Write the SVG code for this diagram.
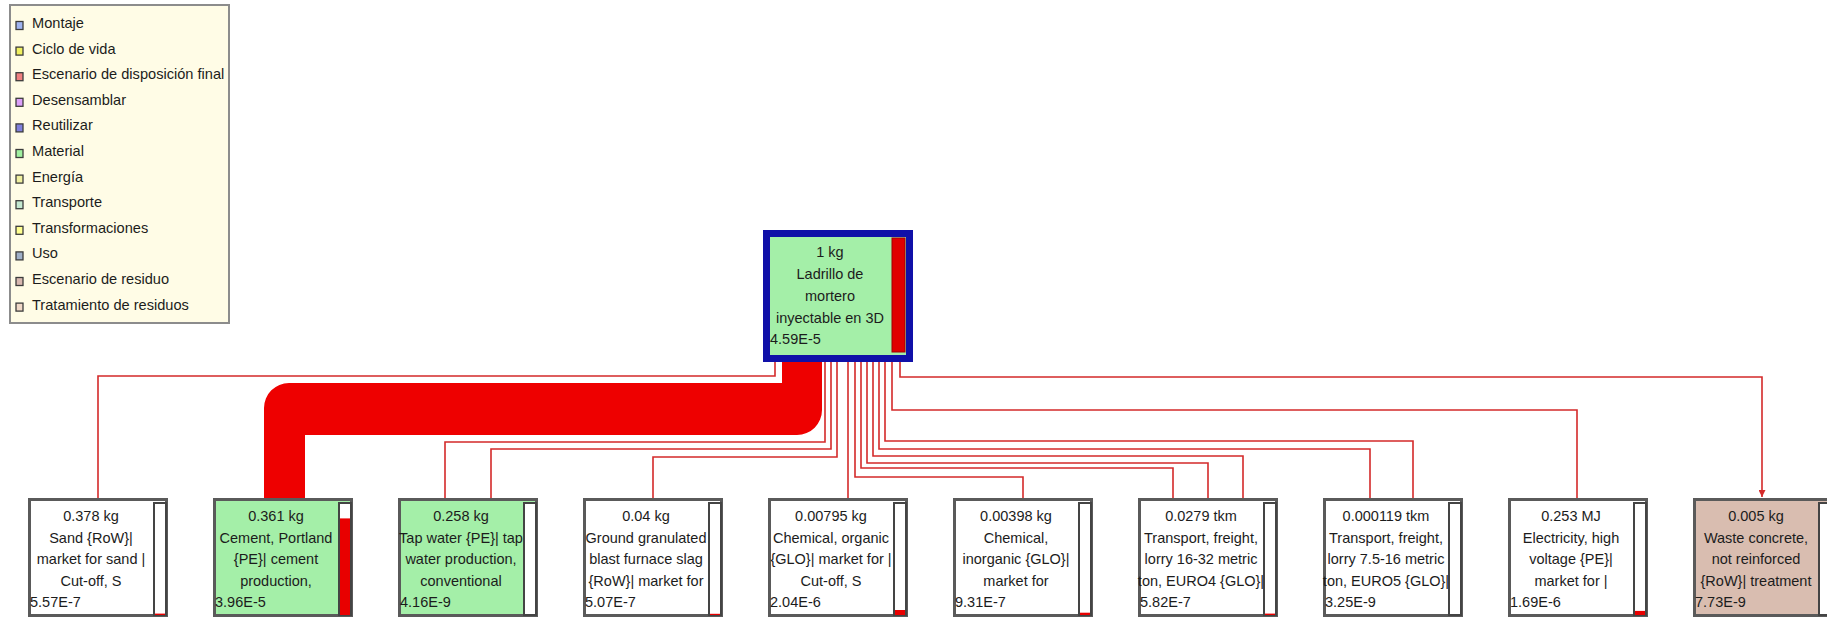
<svg xmlns="http://www.w3.org/2000/svg" width="1827" height="619" viewBox="0 0 1827 619">
<defs>
<style>
.t{font-family:"Liberation Sans",Arial,sans-serif;font-size:14.5px;fill:#1c1c1c;text-anchor:middle}
.v{font-family:"Liberation Sans",Arial,sans-serif;font-size:14.5px;fill:#1c1c1c;text-anchor:start}
.lg{font-family:"Liberation Sans",Arial,sans-serif;font-size:14.6px;fill:#1c1c1c}
.sq{stroke:#3c3c3c;stroke-width:1.3}
.box{stroke:#5a5a5a;stroke-width:3}
.bar{fill:#ffffff;stroke:#444444;stroke-width:2}
.red{fill:#e80000}
.c{fill:none;stroke:#d42a2a;stroke-width:1.6}
.white{fill:#ffffff}
.green{fill:#a4efa8}
.tan{fill:#d9bdb0}
</style>
<marker id="arr" viewBox="0 0 10 10" refX="10" refY="5" markerWidth="7" markerHeight="7" markerUnits="userSpaceOnUse" orient="auto">
<path d="M0,0 L10,5 L0,10 z" fill="#d42a2a"/>
</marker>
</defs>
<rect x="0" y="0" width="1827" height="619" fill="#ffffff"/>

<g id="legend">
<rect x="10" y="5" width="219" height="318" fill="#fffce6" stroke="#8c8c8c" stroke-width="2"/>
<rect class="sq" x="16" y="21.5" width="7" height="8" fill="#a0b4f0"/><text class="lg" x="32" y="28">Montaje</text>
<rect class="sq" x="16" y="47.1" width="7" height="8" fill="#f0f060"/><text class="lg" x="32" y="53.6">Ciclo de vida</text>
<rect class="sq" x="16" y="72.7" width="7" height="8" fill="#f08080"/><text class="lg" x="32" y="79.2">Escenario de disposición final</text>
<rect class="sq" x="16" y="98.3" width="7" height="8" fill="#dca0fa"/><text class="lg" x="32" y="104.8">Desensamblar</text>
<rect class="sq" x="16" y="123.9" width="7" height="8" fill="#8080dc"/><text class="lg" x="32" y="130.4">Reutilizar</text>
<rect class="sq" x="16" y="149.5" width="7" height="8" fill="#a0f0a0"/><text class="lg" x="32" y="156">Material</text>
<rect class="sq" x="16" y="175.1" width="7" height="8" fill="#f0f0a0"/><text class="lg" x="32" y="181.6">Energía</text>
<rect class="sq" x="16" y="200.7" width="7" height="8" fill="#c4e8d0"/><text class="lg" x="32" y="207.2">Transporte</text>
<rect class="sq" x="16" y="226.3" width="7" height="8" fill="#ffff90"/><text class="lg" x="32" y="232.8">Transformaciones</text>
<rect class="sq" x="16" y="251.9" width="7" height="8" fill="#a0b0c8"/><text class="lg" x="32" y="258.4">Uso</text>
<rect class="sq" x="16" y="277.5" width="7" height="8" fill="#d8b8b0"/><text class="lg" x="32" y="284">Escenario de residuo</text>
<rect class="sq" x="16" y="303.1" width="7" height="8" fill="#f0d8c8"/><text class="lg" x="32" y="309.6">Tratamiento de residuos</text>
</g>

<g id="connectors">
<path class="c" d="M775 360 V376 H98 V498"/>
<path d="M782 356 L822 356 L822 410 A25 25 0 0 1 797 435 L305 435 L305 498 L264 498 L264 408 A25 25 0 0 1 289 383 L782 383 Z" fill="#ee0000"/>
<path class="c" d="M825 360 V442 H445 V498"/>
<path class="c" d="M831 360 V449 H491 V498"/>
<path class="c" d="M837 360 V457 H653 V498"/>
<path class="c" d="M848 360 V498"/>
<path class="c" d="M855 360 V477 H1023 V498"/>
<path class="c" d="M861 360 V468 H1173 V498"/>
<path class="c" d="M867 360 V463 H1208 V498"/>
<path class="c" d="M873 360 V456 H1243 V498"/>
<path class="c" d="M879 360 V449 H1370 V498"/>
<path class="c" d="M885 360 V441 H1413 V498"/>
<path class="c" d="M892 360 V410 H1577 V498"/>
<path class="c" d="M900 360 V377 H1762 V497" marker-end="url(#arr)"/>
</g>

<g id="node-top">
<rect x="766.5" y="233.5" width="143" height="125" fill="#a4efa8" stroke="#1010a8" stroke-width="7"/>
<rect x="892" y="238" width="13" height="114" fill="#e00000" stroke="#a00000" stroke-width="1"/>
<text class="t" x="830" y="257">1 kg</text>
<text class="t" x="830" y="279">Ladrillo de</text>
<text class="t" x="830" y="301">mortero</text>
<text class="t" x="830" y="323">inyectable en 3D</text>
<text class="v" x="770" y="344">4.59E-5</text>
</g>

<g id="node-sand">
<rect class="box white" x="29.5" y="499.5" width="137" height="116"/>
<rect class="bar" x="154" y="503" width="12" height="112"/>
<rect class="red" x="155" y="613.6" width="10" height="1.4"/>
<text class="t" x="91" y="521">0.378 kg</text>
<text class="t" x="91" y="542.5">Sand {RoW}|</text>
<text class="t" x="91" y="564">market for sand |</text>
<text class="t" x="91" y="585.5">Cut-off, S</text>
<text class="v" x="30" y="607">5.57E-7</text>
</g>

<g id="node-cement">
<rect class="box green" x="214.5" y="499.5" width="137" height="116"/>
<rect class="bar" x="339" y="503" width="12" height="112"/>
<rect class="red" x="340" y="518.4" width="10" height="96.6"/>
<text class="t" x="276" y="521">0.361 kg</text>
<text class="t" x="276" y="542.5">Cement, Portland</text>
<text class="t" x="276" y="564">{PE}| cement</text>
<text class="t" x="276" y="585.5">production,</text>
<text class="v" x="215" y="607">3.96E-5</text>
</g>

<g id="node-tapwater">
<rect class="box green" x="399.5" y="499.5" width="137" height="116"/>
<rect class="bar" x="524" y="503" width="12" height="112"/>
<text class="t" x="461" y="521">0.258 kg</text>
<text class="t" x="461" y="542.5">Tap water {PE}| tap</text>
<text class="t" x="461" y="564">water production,</text>
<text class="t" x="461" y="585.5">conventional</text>
<text class="v" x="400" y="607">4.16E-9</text>
</g>

<g id="node-slag">
<rect class="box white" x="584.5" y="499.5" width="137" height="116"/>
<rect class="bar" x="709" y="503" width="12" height="112"/>
<rect class="red" x="710" y="613.8" width="10" height="1.2"/>
<text class="t" x="646" y="521">0.04 kg</text>
<text class="t" x="646" y="542.5">Ground granulated</text>
<text class="t" x="646" y="564">blast furnace slag</text>
<text class="t" x="646" y="585.5">{RoW}| market for</text>
<text class="v" x="585" y="607">5.07E-7</text>
</g>

<g id="node-chem-organic">
<rect class="box white" x="769.5" y="499.5" width="137" height="116"/>
<rect class="bar" x="894" y="503" width="12" height="112"/>
<rect class="red" x="895" y="610" width="10" height="5"/>
<text class="t" x="831" y="521">0.00795 kg</text>
<text class="t" x="831" y="542.5">Chemical, organic</text>
<text class="t" x="831" y="564">{GLO}| market for |</text>
<text class="t" x="831" y="585.5">Cut-off, S</text>
<text class="v" x="770" y="607">2.04E-6</text>
</g>

<g id="node-chem-inorganic">
<rect class="box white" x="954.5" y="499.5" width="137" height="116"/>
<rect class="bar" x="1079" y="503" width="12" height="112"/>
<rect class="red" x="1080" y="612.7" width="10" height="2.3"/>
<text class="t" x="1016" y="521">0.00398 kg</text>
<text class="t" x="1016" y="542.5">Chemical,</text>
<text class="t" x="1016" y="564">inorganic {GLO}|</text>
<text class="t" x="1016" y="585.5">market for</text>
<text class="v" x="955" y="607">9.31E-7</text>
</g>

<g id="node-transport-euro4">
<rect class="box white" x="1139.5" y="499.5" width="137" height="116"/>
<rect class="bar" x="1264" y="503" width="12" height="112"/>
<rect class="red" x="1265" y="613.6" width="10" height="1.4"/>
<text class="t" x="1201" y="521">0.0279 tkm</text>
<text class="t" x="1201" y="542.5">Transport, freight,</text>
<text class="t" x="1201" y="564">lorry 16-32 metric</text>
<text class="t" x="1201" y="585.5">ton, EURO4 {GLO}|</text>
<text class="v" x="1140" y="607">5.82E-7</text>
</g>

<g id="node-transport-euro5">
<rect class="box white" x="1324.5" y="499.5" width="137" height="116"/>
<rect class="bar" x="1449" y="503" width="12" height="112"/>
<text class="t" x="1386" y="521">0.000119 tkm</text>
<text class="t" x="1386" y="542.5">Transport, freight,</text>
<text class="t" x="1386" y="564">lorry 7.5-16 metric</text>
<text class="t" x="1386" y="585.5">ton, EURO5 {GLO}|</text>
<text class="v" x="1325" y="607">3.25E-9</text>
</g>

<g id="node-electricity">
<rect class="box white" x="1509.5" y="499.5" width="137" height="116"/>
<rect class="bar" x="1634" y="503" width="12" height="112"/>
<rect class="red" x="1635" y="610.9" width="10" height="4.1"/>
<text class="t" x="1571" y="521">0.253 MJ</text>
<text class="t" x="1571" y="542.5">Electricity, high</text>
<text class="t" x="1571" y="564">voltage {PE}|</text>
<text class="t" x="1571" y="585.5">market for |</text>
<text class="v" x="1510" y="607">1.69E-6</text>
</g>

<g id="node-waste-concrete">
<rect class="box tan" x="1694.5" y="499.5" width="137" height="116"/>
<rect class="bar" x="1819" y="503" width="12" height="112"/>
<text class="t" x="1756" y="521">0.005 kg</text>
<text class="t" x="1756" y="542.5">Waste concrete,</text>
<text class="t" x="1756" y="564">not reinforced</text>
<text class="t" x="1756" y="585.5">{RoW}| treatment</text>
<text class="v" x="1695" y="607">7.73E-9</text>
</g>
</svg>
